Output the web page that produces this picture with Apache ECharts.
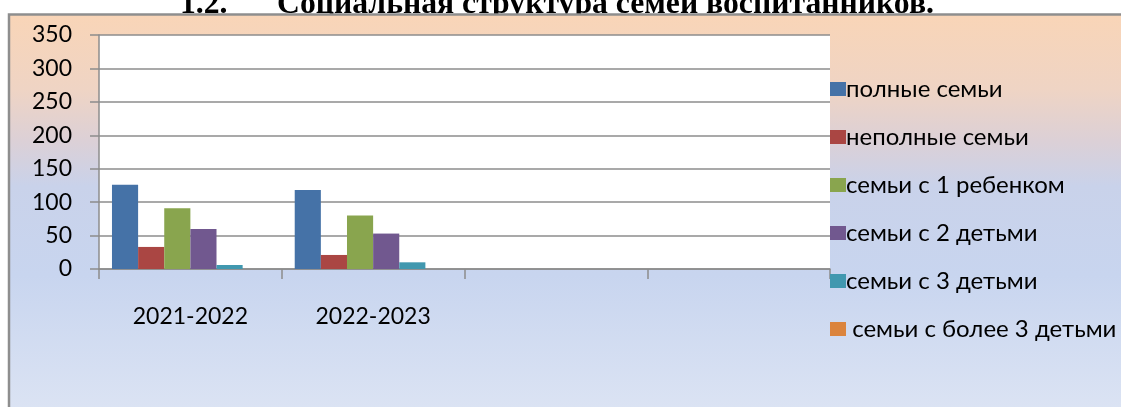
<!DOCTYPE html>
<html>
<head>
<meta charset="utf-8">
<script src="https://cdn.jsdelivr.net/npm/echarts@6/dist/echarts.min.js"></script>
<style>
  html, body { margin: 0; padding: 0; background: #fff; }
  #chart { width: 1121px; height: 407px; }
</style>
</head>
<body>
<div id="chart"></div>
<script>
const categories = ['2021-2022', '2022-2023', '', ''];

const fullFamilies = [126, 118, null, null];
const incompleteFamilies = [33, 21, null, null];
const oneChild = [91, 80, null, null];
const twoChildren = [60, 53, null, null];
const threeChildren = [6, 10, null, null];
const moreThanThree = [0, 0, null, null];

const seriesNames = [
  'полные семьи',
  'неполные семьи',
  'семьи с 1 ребенком',
  'семьи с 2 детьми',
  'семьи с 3 детьми',
  ' семьи с более 3 детьми'
];
const seriesData = [fullFamilies, incompleteFamilies, oneChild, twoChildren, threeChildren, moreThanThree];
const colors = ['#4572a7', '#aa4643', '#89a54e', '#71588f', '#4198af', '#db843d'];

const font = 'Lato, "Open Sans", sans-serif';
const gray = '#8c8c8c';
const titleFont = 'bold 31.7px "Liberation Serif", serif';

const chart = echarts.init(document.getElementById('chart'));

const series = seriesNames.map((name, i) => ({
  name: name,
  type: 'bar',
  data: seriesData[i],
  barGap: '0%',
  barCategoryGap: '14.2%',
  z: 4,
  itemStyle: { color: colors[i] }
}));

chart.setOption({
  animation: false,
  color: colors,
  graphic: [
    {
      type: 'text',
      z: 0,
      x: 180,
      y: -11,
      style: { text: '1.2.', font: titleFont, fill: '#000', verticalAlign: 'top' }
    },
    {
      type: 'text',
      z: 0,
      x: 277,
      y: -11,
      style: { text: 'Социальная структура семей воспитанников.', font: titleFont, fill: '#000', verticalAlign: 'top' }
    },
    {
      type: 'rect',
      z: 1,
      shape: { x: 9, y: 14.5, width: 1130, height: 420 },
      style: {
        fill: new echarts.graphic.LinearGradient(0, 0, 0, 1, [
          { offset: 0, color: '#f9d5b7' },
          { offset: 0.18, color: '#efd4c4' },
          { offset: 0.3, color: '#dcd0d6' },
          { offset: 0.41, color: '#c9d2ea' },
          { offset: 0.62, color: '#c8d5ef' },
          { offset: 1, color: '#dfe6f4' }
        ]),
        stroke: '#8e8e8e',
        lineWidth: 2.5
      }
    }
  ],
  grid: {
    left: 99,
    right: 291,
    top: 35,
    bottom: 138,
    show: true,
    z: 2,
    backgroundColor: '#fff',
    borderWidth: 0
  },
  legend: {
    orient: 'vertical',
    left: 825,
    top: 72,
    z: 5,
    icon: 'rect',
    itemWidth: 16,
    itemHeight: 14,
    itemGap: 24,
    data: seriesNames,
    textStyle: {
      fontFamily: font,
      fontSize: 24,
      lineHeight: 24,
      color: '#000',
      padding: [0, 0, 0, -5]
    }
  },
  xAxis: {
    type: 'category',
    data: categories,
    z: 3,
    axisLine: { show: true, lineStyle: { color: gray, width: 1.5 } },
    axisTick: { show: true, length: 10, alignWithLabel: false, lineStyle: { color: gray, width: 1.5 } },
    axisLabel: { interval: 0, margin: 36, fontFamily: font, fontSize: 23, color: '#000' }
  },
  yAxis: {
    type: 'value',
    min: 0,
    max: 350,
    interval: 50,
    z: 3,
    axisLine: { show: true, lineStyle: { color: gray, width: 1.5 } },
    axisTick: { show: true, length: 9, lineStyle: { color: gray, width: 1.5 } },
    axisLabel: { margin: 27, fontFamily: font, fontSize: 23, color: '#000' },
    splitLine: { show: true, lineStyle: { color: gray, width: 1.5 } }
  },
  series: series
});
</script>
</body>
</html>
